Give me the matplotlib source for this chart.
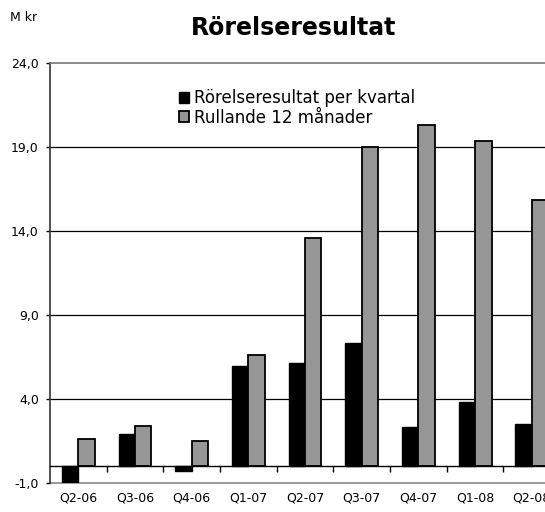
import numpy as np
import matplotlib
matplotlib.use("Agg")
import matplotlib.pyplot as plt
from matplotlib.ticker import FuncFormatter

# data (Mkr)
quarters = ["Q2-06", "Q3-06", "Q4-06", "Q1-07", "Q2-07", "Q3-07", "Q4-07", "Q1-08", "Q2-08"]
per_kvartal = [-0.95, 1.93, -0.3, 5.95, 6.17, 7.34, 2.31, 3.82, 2.51]
rullande_12 = [1.6, 2.4, 1.5, 6.64, 13.6, 19.0, 20.3, 19.38, 15.84]
y_ticks = [-1, 4, 9, 14, 19, 24]

plt.rcParams['font.family'] = ['DejaVu Sans']

fig = plt.figure(figsize=(5.45, 5.12), dpi=100)
# plot area runs past the right edge of the picture, like the original crop
ax = fig.add_axes([0.0917, 0.0566, 0.936, 0.8203])

x = np.arange(len(quarters))
w = 0.29
ax.bar(x - w / 2, per_kvartal, w, color="black", edgecolor="black", lw=1.0,
       label="Rörelseresultat per kvartal", zorder=3)
ax.bar(x + w / 2, rullande_12, w, color="#969696", edgecolor="black", lw=1.3,
       label="Rullande 12 månader", zorder=3)

ax.set_xlim(-0.5, len(quarters) - 0.5)
ax.set_ylim(-1, 24)

# gridlines
for yv in y_ticks[1:-1]:
    ax.axhline(yv, color="black", lw=0.9, zorder=1)
ax.axhline(-1, color="#888888", lw=1.2, zorder=1, clip_on=False)

# spines
ax.spines["right"].set_visible(False)
ax.spines["top"].set_color("#777777")
ax.spines["top"].set_linewidth(1.2)
ax.spines["left"].set_color("#333333")
ax.spines["left"].set_linewidth(1.2)
ax.spines["bottom"].set_position(("data", 0))
ax.spines["bottom"].set_color("black")
ax.spines["bottom"].set_linewidth(1.0)
ax.spines["bottom"].set_zorder(4)

ax.set_yticks(y_ticks)
ax.yaxis.set_major_formatter(FuncFormatter(lambda v, p: f"{v:.1f}".replace(".", ",")))
ax.tick_params(axis="y", length=3, width=1, pad=5, labelsize=9, colors="black")

ax.set_xticks(x)
ax.set_xticklabels(quarters)
ax.set_xticks(x[:-1] + 0.5, minor=True)
ax.tick_params(axis="x", which="major", length=0, pad=18, labelsize=9)
ax.tick_params(axis="x", which="minor", length=4, width=1, direction="out")

fig.text(0.018, 0.965, "M kr", fontsize=9, ha="left", va="center")
fig.text(0.538, 0.945, "Rörelseresultat", fontsize=17, fontweight="bold",
         ha="center", va="center")

ax.legend(loc="upper left", bbox_to_anchor=(0.313, 0.842), bbox_transform=fig.transFigure,
          frameon=False, fontsize=12, handlelength=0.6, handleheight=0.6,
          handletextpad=0.3, labelspacing=0.08, borderpad=0)

fig.savefig("out.png", dpi=100)
